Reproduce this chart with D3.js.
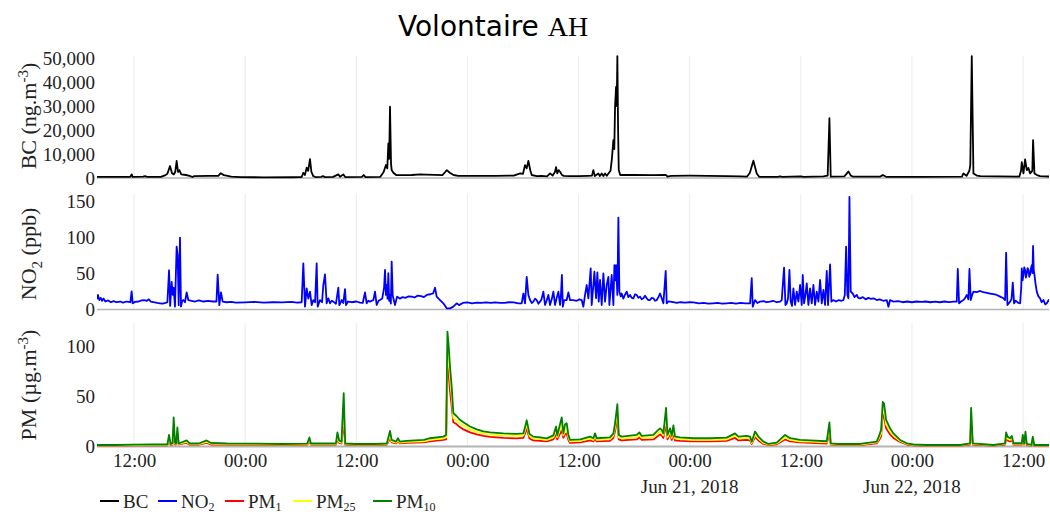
<!DOCTYPE html>
<html><head><meta charset="utf-8">
<script src="https://cdn.jsdelivr.net/npm/d3@7"></script>
<style>body{margin:0;background:#fff}svg{display:block}</style>
</head><body><svg id="chart" width="1050" height="515"></svg>
<script>
// ---- time frame (hours from Jun 18 2018 08:00) ----
const START = new Date(2018, 5, 18, 8, 0);
const END_HOURS = 102.8;
const tickHours = [4, 16, 28, 40, 52, 64, 76, 88, 100];
const dateLabelHours = [64, 88];
const dateLabelTexts = ["Jun 21, 2018", "Jun 22, 2018"];
const bcTicks = [0, 10000, 20000, 30000, 40000, 50000];
const no2Ticks = [0, 50, 100, 150];
const pmTicks = [0, 50, 100];

// ---- BC (ng.m-3): [hour, value] ----
const bcData = [[0,500],[1,450],[2,480],[3.6,500],[3.74,1500],[3.85,500],[5.0,550],[5.18,800],[5.4,450],[6.9,500],[7.4,1200],[7.6,1800],[7.88,5000],[8.1,2000],[8.3,1500],[8.45,2600],[8.6,7083],[8.75,2500],[8.89,3300],[9.1,1500],[9.6,1250],[10.0,900],[10.3,400],[10.5,800],[12,900],[13.1,900],[13.36,2000],[13.7,1200],[14.5,600],[15.5,350],[18,300],[21,320],[22.1,400],[22.28,2200],[22.45,1200],[22.64,4300],[22.8,3000],[23.0,7900],[23.15,2600],[23.35,800],[23.6,400],[24.2,500],[24.4,800],[24.6,400],[25.5,450],[26.06,1500],[26.25,500],[26.6,1500],[26.8,400],[28.6,450],[28.8,1250],[29.0,400],[30.6,500],[30.95,2500],[31.2,5400],[31.35,4000],[31.46,14400],[31.55,8000],[31.64,29700],[31.75,6000],[31.82,3300],[32.0,2200],[32.3,1250],[33,1200],[34,1250],[34.9,1500],[35.5,1400],[36.5,1300],[37.3,1200],[37.6,2500],[37.77,3300],[38.1,2200],[38.5,1250],[39,900],[41,850],[43,900],[45,1000],[45.7,1900],[46.0,1700],[46.22,5400],[46.4,4000],[46.58,7100],[46.8,3000],[46.94,1250],[47.5,800],[48.0,850],[48.6,700],[48.93,1900],[49.2,1000],[49.45,2500],[49.57,4500],[49.7,1900],[49.85,3300],[50.0,2600],[50.2,1300],[50.4,900],[51,800],[52,750],[53.0,900],[53.45,1000],[53.6,3300],[53.75,800],[54.14,1900],[54.3,800],[54.5,1900],[54.68,800],[54.86,1900],[55.05,900],[55.45,3000],[55.6,8000],[55.76,15800],[55.86,12000],[55.94,29700],[56.05,38000],[56.12,30000],[56.19,50800],[56.27,20000],[56.34,3300],[56.5,1250],[58,1250],[60,1200],[61.45,1250],[61.6,600],[62,900],[64,950],[66,900],[68,800],[69.5,700],[70.2,600],[70.5,2200],[70.88,7200],[71.24,1900],[71.5,500],[73.5,500],[73.76,700],[74,450],[76.0,700],[76.3,450],[78.44,700],[78.9,1000],[79.09,24900],[79.23,600],[80.7,700],[80.95,1800],[81.14,2700],[81.4,1000],[81.6,600],[84.6,600],[84.85,1250],[85.2,500],[89,500],[93.4,600],[93.56,1900],[93.9,900],[94.2,3000],[94.3,5400],[94.46,50800],[94.64,1900],[95.0,1000],[95.4,800],[99.6,600],[99.78,3000],[99.86,6600],[100.04,1900],[100.22,7800],[100.4,3300],[100.58,4200],[100.76,1900],[101.0,3000],[101.08,15800],[101.23,1900],[101.5,1200],[101.84,800],[102.9,600]];

// ---- NO2 (ppb): [hour, value] ----
const no2Data = [[0,14],[0.1,20],[0.25,13],[0.4,16],[0.55,12],[0.7,15],[0.9,11],[1.2,12.5],[1.5,10],[1.8,11.5],[2.1,10],[2.5,11],[2.8,9.5],[3.2,11],[3.6,10],[3.74,25],[3.85,8.5],[4.1,10.5],[4.5,11],[4.8,12.5],[5.1,13],[5.4,12],[5.6,14],[5.8,11],[6.1,10],[6.5,9],[6.8,8.5],[7.1,8],[7.4,9],[7.6,10],[7.78,54],[7.9,5],[8.06,38],[8.18,20],[8.28,30],[8.42,4],[8.6,86.5],[8.71,75],[8.82,6],[8.96,99],[9.07,4],[9.2,12],[9.32,13],[9.5,10],[9.68,23.6],[9.86,13],[10.2,12],[10.6,11],[11,12.5],[11.5,11],[12,12],[12.5,11],[12.9,11],[13.03,48],[13.21,6],[13.39,23.6],[13.57,10.8],[14,10],[14.5,10.5],[15,9.5],[16,9.9],[17,10.5],[18,9.5],[19,10],[20,9.9],[21,10.5],[21.6,9.5],[22.1,10],[22.28,63.6],[22.46,4],[22.64,29],[22.82,15],[23.0,24.6],[23.18,6],[23.36,13],[23.55,10],[23.72,63.6],[23.83,4],[24.08,13],[24.3,10],[24.44,33.7],[24.62,48.4],[24.8,8.5],[24.98,15.4],[25.16,8.5],[25.35,12],[25.52,10.8],[25.8,8],[26.06,30],[26.17,6],[26.42,13],[26.6,9],[26.78,28],[26.89,6],[27.1,11],[27.5,10],[28,11],[28.4,9.5],[28.7,9],[28.94,23.6],[29.12,8.5],[29.3,12],[29.48,10.8],[29.84,13],[30.02,24.6],[30.2,6.2],[30.4,12],[30.56,13],[30.8,15],[31.0,30],[31.1,54.4],[31.2,20],[31.28,33.7],[31.37,15],[31.46,50],[31.55,12],[31.64,20],[31.73,8],[31.82,66],[31.93,20],[32.0,15.4],[32.18,6.2],[32.4,17.7],[32.7,15],[33,17],[33.3,16],[33.6,18],[34,17.7],[34.3,16.5],[34.6,19],[35,18.5],[35.3,17],[35.6,20],[36.0,21],[36.3,22.3],[36.5,30],[36.68,17.7],[37.04,13],[37.4,8.5],[37.76,1.6],[38.12,1.6],[38.48,3.9],[38.84,8.5],[39.1,6],[39.5,9],[40,9.9],[40.5,8.5],[41,9.5],[41.5,9],[42,9.9],[42.5,9],[43,9.9],[43.5,9.2],[44,9],[44.5,10],[45.0,9.9],[45.5,8.5],[45.86,8.5],[46.04,22],[46.22,8.5],[46.4,45],[46.58,20],[46.76,13],[46.95,9],[47.12,10.8],[47.3,15],[47.48,13],[47.66,8],[47.84,10.8],[48.0,14],[48.2,24.6],[48.38,6.2],[48.55,12],[48.74,20],[48.92,6.2],[49.1,14],[49.28,24.6],[49.46,6.2],[49.64,16],[49.82,24.6],[50.0,6.2],[50.1,20],[50.2,47.5],[50.3,3.9],[50.45,13],[50.72,13],[50.9,23.6],[51.08,13],[51.44,13],[51.8,12],[52.1,14],[52.34,13],[52.52,3.9],[52.7,20],[52.88,33.7],[53.06,15.4],[53.31,56.7],[53.42,6.2],[53.6,33.7],[53.71,52],[53.89,15.4],[54.03,51],[54.18,10.8],[54.32,40.6],[54.5,6.2],[54.68,49.8],[54.86,10.8],[55.04,33.7],[55.22,45],[55.33,6.2],[55.58,47.5],[55.76,6.2],[55.87,61],[55.96,40],[56.05,61],[56.19,20],[56.3,126.5],[56.41,24.6],[56.55,18],[56.66,22],[56.84,15],[57.0,20],[57.2,24.6],[57.38,17],[57.56,20],[57.74,16],[57.92,15.4],[58.1,21],[58.28,20],[58.46,16],[58.64,17.7],[58.82,14],[59,15.4],[59.18,19],[59.36,15.4],[59.54,13],[59.72,13],[59.9,16],[60.08,15.4],[60.26,12],[60.44,13],[60.62,17],[60.8,22],[60.98,15.4],[61.16,8.5],[61.41,53],[61.52,8.5],[61.7,11],[61.88,10.8],[62.24,10],[62.6,9],[63,10],[63.5,9.5],[64,10],[64.4,9.9],[65,8.5],[65.5,9],[66,8],[66.5,8.5],[67,9],[67.5,8],[68,8.5],[68.5,9],[69,8],[69.5,9],[70,8.5],[70.52,8.5],[70.7,43],[70.81,3.9],[71.06,13],[71.3,9],[71.6,10.8],[72,11.5],[72.3,10],[72.68,10.8],[73.0,12],[73.4,10],[73.76,10.8],[73.94,13],[74.19,57.6],[74.34,6.2],[74.48,8.5],[74.62,15],[74.77,54.4],[74.91,10.8],[75.05,5],[75.2,29],[75.38,6.2],[75.56,24.6],[75.74,10.8],[75.92,33.7],[76.1,6.2],[76.21,47.5],[76.35,8.5],[76.5,20],[76.64,36],[76.82,6.2],[77.0,29],[77.18,8.5],[77.36,33.7],[77.54,6.2],[77.72,24.6],[77.9,10.8],[78.08,40.6],[78.26,8.5],[78.44,27],[78.62,6.2],[78.8,53],[78.94,6.2],[79.16,62],[79.3,10.8],[79.52,13],[79.8,11],[80.1,13],[80.4,12],[80.6,13],[80.75,20],[80.89,86.5],[81.03,20],[81.14,15.4],[81.25,155],[81.39,24.6],[81.6,22],[81.8,17],[82.04,20],[82.2,16],[82.4,15.4],[82.7,17],[83,14],[83.3,16],[83.6,14.5],[83.84,15.4],[84.2,13],[84.5,14],[84.9,12],[85.28,13],[85.46,3.9],[85.64,13],[86,10.8],[86.5,11.5],[87,10],[87.5,11],[88,10],[88.5,11],[89,10.5],[89.5,11],[90,10],[90.5,10.8],[91,10],[91.5,11],[92,10.2],[92.5,10.8],[92.84,10.8],[92.95,55.8],[93.09,8.5],[93.3,11],[93.56,13],[93.75,16],[93.92,20],[94.1,14],[94.21,55.8],[94.35,13],[94.5,20],[94.64,24.6],[95,24],[95.36,25.5],[95.7,24],[96.1,23],[96.44,22],[96.8,21],[97.16,20],[97.52,17.7],[97.88,15.4],[98.06,13],[98.17,78.3],[98.31,6.2],[98.6,10.8],[98.75,14],[98.89,37],[99.03,8.5],[99.2,12],[99.32,10.8],[99.5,9],[99.68,8.5],[99.8,30],[99.86,56.7],[99.95,40],[100.04,47.5],[100.13,58],[100.22,54.4],[100.31,44],[100.4,49.8],[100.49,57],[100.58,54.4],[100.67,45],[100.76,48.4],[100.85,56],[100.94,61],[101.01,50],[101.08,87.5],[101.15,55],[101.23,47.5],[101.35,35],[101.48,24.6],[101.66,18],[101.84,15.4],[102.0,10],[102.2,13],[102.4,7],[102.56,8.5],[102.75,13],[102.9,11]];

// ---- PM (µg.m-3): shared hours, three series ----
const pmHours = [0,2,4,6,7.6,7.78,7.95,8.15,8.28,8.42,8.55,8.68,8.82,9.68,10.0,11,11.84,12.3,14,17,20,22.7,22.93,23.1,25.8,25.96,26.15,26.4,26.64,26.8,28,30,31.3,31.64,31.82,32.3,32.5,32.7,33.4,35.3,35.96,37.4,37.7,37.84,37.98,38.12,38.3,38.48,38.84,39.2,39.56,40.28,41.0,41.72,42.44,43.88,45.3,46.04,46.22,46.4,46.7,47.12,47.84,48.56,49.28,49.57,49.7,50.18,50.36,50.54,50.72,50.9,51.08,52.2,53.24,53.6,53.78,53.96,55.4,55.76,55.94,56.19,56.34,56.66,58.28,58.57,58.82,60.08,60.44,60.8,60.98,61.16,61.45,61.6,61.88,62.06,62.24,62.42,62.96,64.4,66.2,68.0,68.9,69.26,70.16,70.52,70.7,71.06,71.42,71.96,72.5,73.4,74.3,74.84,75.92,77.0,78.8,79.09,79.23,80,82.4,84.2,84.49,84.67,84.85,84.99,85.21,85.64,86.0,86.72,87.44,88.16,89.6,93.2,94.28,94.39,94.57,96.8,98.06,98.17,98.31,98.6,98.78,98.96,99.86,99.97,100.11,100.26,100.4,100.9,101.05,101.2,102.9];
const pm10 = [1.5,1.5,1.8,2.0,2.0,11.5,2.5,3,28.8,4,3,19,3,6,3,3,6,3.5,3,2.8,2.5,2.8,9,3,3,14,6,4.8,53,3,2.5,2.5,3,15.5,6.5,4.8,8.2,4.8,5.5,6.5,8.2,9.8,11.5,114,99,79,59.5,33.2,30,26.5,24,19.8,17,15,14,13,12.5,13,19,26,12.5,9.8,9,8,11,19.8,11,28.8,13,22,23,11.5,6.5,7,9.8,8.2,13,8.2,9,13,23,42,11.5,9.8,11.5,14,10.5,11.5,15,18,16.5,13,38.4,11.5,18,10.5,21,9.8,9,8.2,8.2,8.8,13,9.8,10.5,9.8,4.8,14.8,9.8,4.8,2.5,3.8,11.5,8.2,6.5,6,5.2,24,3.2,2.5,2.5,4.8,11.5,16.5,44.2,42.5,26.5,18,13,6.5,3.2,2,1.5,1.5,3.2,38.4,3.2,1.5,3.2,14,9.8,8.2,10.5,3.2,3.2,11.5,3.2,14.8,2.5,1.5,9.8,1.5,1.5];
const pm25 = [1.2,1.2,1.4,1.5,1.5,8,2,2.4,20,3,2.5,14,2.5,4.5,2.4,2.4,4.5,2.8,2.4,2.2,2.0,2.2,7,2.4,2.4,10,4.5,3.8,38,2.4,2,2,2.4,11,5,3.8,6.5,3.8,4.5,5,6.5,8,9,95,88,68,50,28,26,23,21,17,14.5,13,12,11,10.5,11,16,22,10.5,8,7.5,6.5,9,16,9,22,11,17,18,9,5,5.5,8,6.5,10.5,6.5,7.5,11,19,35,9,8,9,11.5,8.5,9,12,15,14,11,30,9,15,8.5,17,8,7.5,6.5,6.5,7,11,8,8.5,8,3.5,12,8,3.5,2,3,9,6.5,5,4.8,4,18,2.5,2,2,4,9,13,38,36,22,15,11,5.5,2.6,1.6,1.2,1.2,2.6,30,2.6,1.2,2.6,11,8,6.5,8.5,2.6,2.6,9,2.6,11,2,1.2,7.5,1.2,1.2];
const pm1 = [1.0,1.0,1.1,1.2,1.2,6,1.5,1.8,14,2,2,10,2,3.5,1.8,1.8,3.5,2,1.8,1.6,1.4,1.6,5,1.8,1.8,7,3.5,3,25,1.8,1.5,1.5,1.8,8,4,3,5,3,3.5,4,5,6.5,7,80,72,55,40,24,22,19,17,14,12,10.5,9.5,8.5,8,8.5,13,18,8,6,5.5,5,7,12,7,16,8.5,12,13,6.5,3.5,4,6,5,8,5,5.5,8.5,15,28,7,6,7,9,6.5,7,9.5,12,11,8.5,22,7,12,6.5,13,6,5.5,5,5,5.5,8.5,6,6.5,6,2.5,9.5,6,2.5,1.5,2.2,7,5,4,3.6,3,13,1.8,1.5,1.5,3,7,10,32,30,18,12,8.5,4.5,2,1.2,0.9,0.9,2,22,2,0.9,2,8,6,5,6.5,2,2,7,2,8,1.5,0.9,5.5,0.9,0.9];

// ---- rendering ----
const hourToDate = h => new Date(START.getTime() + h * 3600e3);
const SERIF = "'Liberation Serif','Times New Roman',serif";
const svg = d3.select("#chart");
const L = 97, R = 1049;
const x = d3.scaleTime().domain([START, hourToDate(END_HOURS)]).range([L, R]);
const tickDates = tickHours.map(hourToDate);

const panels = [
  {id: "bc", top: 56, bottom: 178, max: 50833, ticks: bcTicks, fmt: d3.format(","),
   series: [{pts: bcData, color: "#000000"}]},
  {id: "no2", top: 194, bottom: 309.5, max: 159, ticks: no2Ticks, fmt: d3.format("d"),
   series: [{pts: no2Data, color: "#0000ff"}]},
  {id: "pm", top: 323, bottom: 446.5, max: 122.5, ticks: pmTicks, fmt: d3.format("d"),
   series: [
     {pts: pmHours.map((h, i) => [h, pm1[i]]), color: "#ff0000"},
     {pts: pmHours.map((h, i) => [h, pm25[i]]), color: "#ffff00"},
     {pts: pmHours.map((h, i) => [h, pm10[i]]), color: "#008000"}]}
];

const defs = svg.append("defs");
panels.forEach(p => {
  const y = d3.scaleLinear().domain([0, p.max]).range([p.bottom, p.top]);
  p.y = y;
  defs.append("clipPath").attr("id", "clip-" + p.id)
    .append("rect").attr("x", L).attr("y", p.top - 1).attr("width", R - L).attr("height", p.bottom - p.top + 2);
  const g = svg.append("g");
  g.selectAll("line.grid").data(tickDates).join("line")
    .attr("x1", d => x(d)).attr("x2", d => x(d))
    .attr("y1", p.top).attr("y2", p.bottom)
    .attr("stroke", "#ececec").attr("stroke-width", 1);
  g.append("line").attr("x1", L).attr("x2", R).attr("y1", y(0)).attr("y2", y(0))
    .attr("stroke", "#b4b4b4").attr("stroke-width", p.id === "pm" ? 2 : 1.5);
  const ax = g.append("g").attr("transform", `translate(${L},0)`)
    .call(d3.axisLeft(y).tickValues(p.ticks).tickFormat(p.fmt).tickSize(0).tickPadding(2));
  ax.select(".domain").remove();
  ax.selectAll("text").attr("font-family", SERIF).attr("font-size", 19).attr("fill", "#222").attr("dy", "0.34em");
  const line = d3.line().x(d => x(hourToDate(d[0]))).y(d => y(d[1]));
  const lg = g.append("g").attr("clip-path", `url(#clip-${p.id})`);
  p.series.forEach(s => {
    lg.append("path").datum(s.pts).attr("d", line)
      .attr("fill", "none").attr("stroke", s.color).attr("stroke-width", 1.8)
      .attr("stroke-linejoin", "round");
  });
});

// x axis
const xa = svg.append("g").attr("transform", "translate(0,447)")
  .call(d3.axisBottom(x).tickValues(tickDates).tickFormat(d3.timeFormat("%H:%M")).tickSize(0).tickPadding(7));
xa.select(".domain").remove();
xa.selectAll("text").attr("font-family", SERIF).attr("font-size", 19).attr("fill", "#222");
svg.append("g").selectAll("text").data(dateLabelHours).join("text")
  .attr("x", d => x(hourToDate(d))).attr("y", 493).attr("text-anchor", "middle")
  .attr("font-family", SERIF).attr("font-size", 19).attr("fill", "#222")
  .text((d, i) => dateLabelTexts[i]);

// y axis titles
function yTitle(cy, parts) {
  const t = svg.append("text").attr("transform", `translate(36,${cy}) rotate(-90)`)
    .attr("text-anchor", "middle").attr("font-family", SERIF).attr("font-size", 22).attr("fill", "#222");
  parts.forEach(p => {
    const ts = t.append("tspan").text(p.t);
    if (p.dy) ts.attr("dy", p.dy);
    if (p.fs) ts.attr("font-size", p.fs);
  });
}
yTitle(116, [{t: "BC (ng.m"}, {t: "-3", dy: -8, fs: 15}, {t: ")", dy: 8}]);
yTitle(254, [{t: "NO"}, {t: "2", dy: 6, fs: 15}, {t: " (ppb)", dy: -6}]);
yTitle(385, [{t: "PM (µg.m"}, {t: "-3", dy: -8, fs: 15}, {t: ")", dy: 8}]);

// title
const title = svg.append("text").attr("x", 398).attr("y", 36).attr("fill", "#000");
title.append("tspan").attr("font-family", "'DejaVu Sans',sans-serif").attr("font-size", 28).text("Volontaire ");
title.append("tspan").attr("font-family", SERIF).attr("font-size", 28).text("AH");

// legend
const legendNames = ["BC", "NO2", "PM1", "PM25", "PM10"];
const legendColors = ["#000000", "#0000ff", "#ff0000", "#ffff00", "#008000"];
const legendX = [100, 158, 225, 293, 373];
const lg = svg.append("g");
legendNames.forEach((n, i) => {
  lg.append("line").attr("x1", legendX[i]).attr("x2", legendX[i] + 19).attr("y1", 501).attr("y2", 501)
    .attr("stroke", legendColors[i]).attr("stroke-width", 2);
  const t = lg.append("text").attr("x", legendX[i] + 23).attr("y", 508)
    .attr("font-family", SERIF).attr("font-size", 19).attr("fill", "#222");
  const m = n.match(/^([A-Z]+)(\d*)$/);
  t.append("tspan").text(m[1]);
  if (m[2]) t.append("tspan").attr("dy", 3).attr("font-size", 12).text(m[2]);
});
</script></body></html>
